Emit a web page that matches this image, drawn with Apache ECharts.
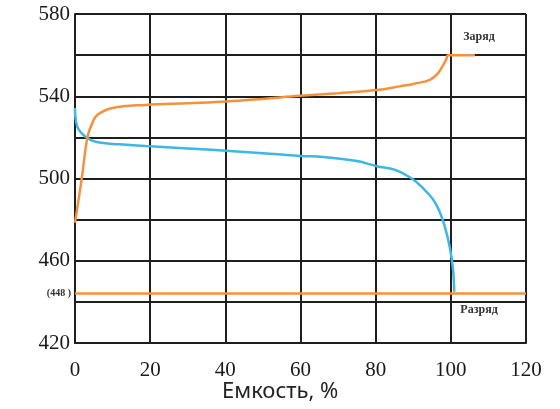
<!DOCTYPE html>
<html>
<head>
<meta charset="utf-8">
<script src="https://cdn.jsdelivr.net/npm/echarts@6/dist/echarts.min.js"></script>
<style>html,body{margin:0;padding:0;background:#fff}#c{width:560px;height:409px}</style>
</head>
<body>
<div id="c"></div>
<script>
var chargeX = [0, 1.8, 3.3, 4.6, 6, 10, 18.8, 30, 40.3, 50, 59.7, 70, 80.3, 86.4, 90, 94.4, 96.5, 98, 98.8, 99.3, 106.4];
var chargeY = [478.5, 500, 520, 527, 531, 534.3, 535.8, 536.6, 537.4, 538.7, 540.2, 541.5, 543, 544.8, 546, 548, 551, 555.3, 558, 560, 560];
var dischargeX = [0, 0.6, 2.8, 5.5, 11.7, 18.8, 30, 40.3, 50, 59.7, 66, 75, 80.3, 85, 89.5, 92.5, 95.2, 97, 98.4, 99.7, 100.6, 100.9];
var dischargeY = [534.3, 525.2, 520.3, 517.9, 516.6, 515.8, 514.6, 513.5, 512.3, 511, 510.5, 508.5, 506, 504.3, 500.1, 495.5, 490, 484, 476.6, 466.8, 455.5, 444.9];
var cutoffValue = 444.2;
var cutoffLabel = '(448 )';
var labelCharge = 'Заряд';
var labelDischarge = 'Разряд';
var labelChargePos = [107.5, 569];
var labelDischargePos = [107.5, 436];
var xAxisName = 'Емкость, %';

function zip(a, b) { return a.map(function (v, i) { return [v, b[i]]; }); }

var chart = echarts.init(document.getElementById('c'));
var gridLine = { color: '#1e1e1e', width: 2 };
chart.setOption({
  animation: false,
  grid: { left: 75, right: 34, top: 14, bottom: 66 },
  xAxis: {
    type: 'value', min: 0, max: 120, interval: 20,
    axisLine: { show: true, lineStyle: gridLine },
    axisTick: { show: false },
    splitLine: { show: true, lineStyle: gridLine },
    axisLabel: { margin: 17, color: '#1a1a1a', fontFamily: 'Liberation Serif', fontSize: 21 }
  },
  yAxis: {
    type: 'value', min: 420, max: 580, interval: 20,
    axisLine: { show: true, lineStyle: gridLine },
    axisTick: { show: false },
    splitLine: { show: true, lineStyle: gridLine },
    axisLabel: {
      margin: 5, color: '#1a1a1a', fontFamily: 'Liberation Serif', fontSize: 21,
      formatter: function (v) { return (v - 420) % 40 === 0 ? String(v) : ''; }
    }
  },
  graphic: [{
    type: 'text', x: 222, y: 392,
    style: { text: xAxisName, font: '22px "Noto Sans"', fill: '#222', verticalAlign: 'middle' }
  }],
  series: [
    {
      type: 'line', data: zip(chargeX, chargeY), showSymbol: false,
      smooth: 0.4,
      lineStyle: { color: '#f5913d', width: 2.5 }, itemStyle: { color: '#f5913d' },
      markLine: {
        silent: true, symbol: 'none',
        lineStyle: { color: '#f5913d', width: 2.5, type: 'solid' },
        label: { show: true, position: 'start', formatter: cutoffLabel, color: '#333', fontFamily: 'Liberation Serif', fontSize: 10, fontWeight: 'bold', distance: 4 },
        data: [{ yAxis: cutoffValue }]
      },
      markPoint: {
        symbolSize: 0, silent: true,
        label: { show: true, color: '#333', fontFamily: 'Liberation Serif', fontSize: 12, fontWeight: 'bold', formatter: function (p) { return p.name; } },
        data: [
          { name: labelCharge, coord: labelChargePos },
          { name: labelDischarge, coord: labelDischargePos }
        ]
      },
      z: 3
    },
    {
      type: 'line', data: zip(dischargeX, dischargeY), showSymbol: false,
      smooth: 0.4,
      lineStyle: { color: '#3cb7e6', width: 2.5 }, itemStyle: { color: '#3cb7e6' },
      z: 2
    }
  ]
});
</script>
</body>
</html>
